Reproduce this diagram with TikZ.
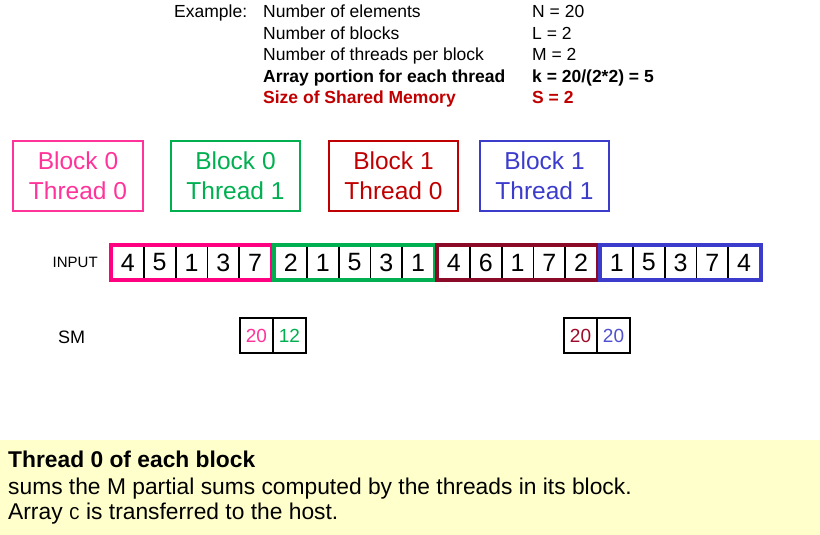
\documentclass[tikz,border=0pt]{standalone}
\usepackage{fontspec}
\setmainfont{Liberation Sans}
\setmonofont{Liberation Mono}
\usetikzlibrary{positioning,fit}

\definecolor{thpink}{HTML}{FF3399}
\definecolor{thgreen}{HTML}{00B050}
\definecolor{thred}{HTML}{C00000}
\definecolor{thblue}{HTML}{3C3CCC}
\definecolor{inpink}{HTML}{FF0080}
\definecolor{inmaroon}{HTML}{8B0A28}
\definecolor{smred}{HTML}{A00A2A}
\definecolor{smblue}{HTML}{5050D0}
\definecolor{notebg}{HTML}{FFFFCC}

\begin{document}
\begin{tikzpicture}[x=1pt,y=-1pt,
  info node/.style={anchor=base west,inner sep=0pt,font=\fontsize{17.5}{17.5}\selectfont},
  block node/.style={draw,line width=1.6pt,minimum width=129pt,minimum height=70pt,inner sep=0pt,align=center,font=\fontsize{24.5}{30}\selectfont},
  cell node/.style={draw=black,line width=1.8pt,fill=white,minimum width=31.8pt,minimum height=33pt,inner sep=0pt,font=\fontsize{25}{25}\selectfont},
  group node/.style={draw,line width=4pt,inner sep=0pt},
  sm node/.style={draw=black,line width=2.4pt,fill=white,minimum width=33pt,minimum height=35pt,inner sep=0pt,font=\fontsize{19}{19}\selectfont},
  side label/.style={anchor=west,inner sep=0pt}]
  \useasboundingbox (0,0) rectangle (820,535);

  % parameters of the example
  \node[info node] (ex) at (174,18) {Example:};
  \node[info node] (lbl1) at (263,18) {Number of elements};
  \node[info node] (val1) at (532,18) {N = 20};
  \node[info node] (lbl2) at (263,39.3) {Number of blocks};
  \node[info node] (val2) at (532,39.3) {L = 2};
  \node[info node] (lbl3) at (263,60.6) {Number of threads per block};
  \node[info node] (val3) at (532,60.6) {M = 2};
  \node[info node,font=\fontsize{17.5}{17.5}\selectfont\bfseries] (lbl4) at (263,82) {Array portion for each thread};
  \node[info node,font=\fontsize{17.5}{17.5}\selectfont\bfseries] (val4) at (532,82) {k = 20/(2*2) = 5};
  \node[info node,font=\fontsize{17.5}{17.5}\selectfont\bfseries,text=thred] (lbl5) at (263,103.3) {Size of Shared Memory};
  \node[info node,font=\fontsize{17.5}{17.5}\selectfont\bfseries,text=thred] (val5) at (532,103.3) {S = 2};

  % threads
  \node[block node,draw=thpink,text=thpink,minimum width=130pt] (b0t0) at (78,176) {Block 0\\Thread 0};
  \node[block node,draw=thgreen,text=thgreen] (b0t1) at (235.5,176) {Block 0\\Thread 1};
  \node[block node,draw=thred,text=thred] (b1t0) at (393.5,176) {Block 1\\Thread 0};
  \node[block node,draw=thblue,text=thblue] (b1t1) at (544.5,176) {Block 1\\Thread 1};

  % input array
  \node[side label,font=\fontsize{15}{15}\selectfont] (input) at (52.5,262.5) {INPUT};
  \foreach \val [count=\i from 0] in {4,5,1,3,7,2,1,5,3,1,4,6,1,7,2,1,5,3,7,4} {
    \pgfmathtruncatemacro\grp{int(\i/5)}
    \pgfmathsetmacro\xc{112+163*\grp+31.8*(\i-5*\grp)+15.9}
    \node[cell node] (in\i) at (\xc,262.5) {\val};
  }
  \foreach \grp/\col in {0/inpink,1/thgreen,2/inmaroon,3/thblue} {
    \pgfmathtruncatemacro\first{5*\grp}
    \pgfmathtruncatemacro\last{5*\grp+4}
    \node[group node,draw=\col,fit=(in\first)(in\last)] (grp\grp) {};
  }

  % shared memory
  \node[side label,font=\fontsize{18}{18}\selectfont] (sm) at (58,337) {SM};
  \node[sm node,text=thpink] (sm00) at (256.5,335.5) {20};
  \node[sm node,text=thgreen] (sm01) at (289.5,335.5) {12};
  \node[sm node,text=smred] (sm10) at (580.5,335.5) {20};
  \node[sm node,text=smblue] (sm11) at (613.5,335.5) {20};

  % note
  \node[fill=notebg,inner sep=0pt,minimum width=820pt,minimum height=95pt,anchor=north west] (note) at (0,440) {};
  \node[info node,font=\fontsize{22.8}{22.8}\selectfont\bfseries] (note1) at (8,467) {Thread 0 of each block};
  \node[info node,font=\fontsize{22.8}{22.8}\selectfont] (note2) at (8,494) {sums the M partial sums computed by the threads in its block.};
  \node[info node,font=\fontsize{22.8}{22.8}\selectfont] (note3) at (8,519) {Array {\ttfamily\fontsize{18}{18}\selectfont C} is transferred to the host.};
\end{tikzpicture}
\end{document}
